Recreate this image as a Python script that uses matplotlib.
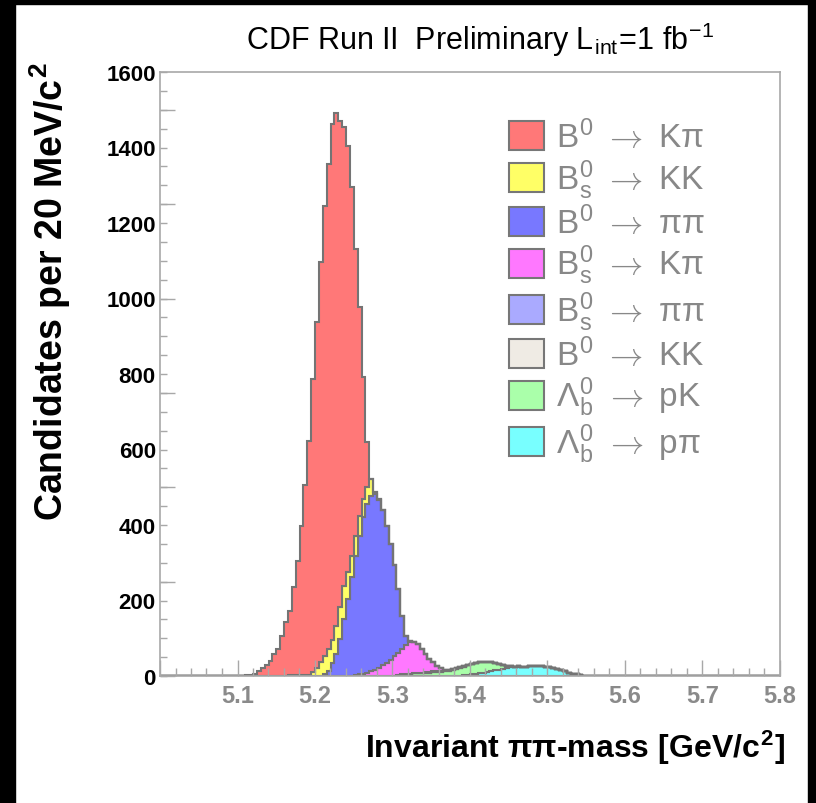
import numpy as np
import matplotlib
matplotlib.use("Agg")
import matplotlib.pyplot as plt
from matplotlib.patches import Patch, Rectangle

plt.rcParams['font.family'] = ['Liberation Sans', 'DejaVu Sans']
plt.rcParams['mathtext.fontset'] = 'cm'

# 5 MeV bins from 5.0 to 5.8 GeV/c^2
bin_width = 0.005
x_lo, x_hi = 5.0, 5.8

# per-component counts, each with its first bin
kpi_start = 5.105   # B0 -> K pi
kpi = [1, 2, 3, 5, 14, 22, 30, 41, 58, 71, 106, 141, 171, 233, 303, 396,
       505, 620, 777, 915, 1061, 1192, 1285, 1367, 1358, 1288, 1216, 1130,
       977, 760, 553, 323, 120]
bskk_start = 5.190  # Bs -> KK
bskk = [1, 9, 21, 35, 50, 59, 61, 75, 84, 89, 70, 56, 53, 53, 49, 45, 44, 5, 2, 1]
pipi_start = 5.210  # B0 -> pi pi
pipi = [3, 12, 34, 58, 98, 150, 205, 262, 316, 367, 414, 446, 465, 465, 444,
        412, 363, 307, 243, 168, 88, 23, 3]
bskpi_start = 5.250  # Bs -> K pi
bskpi = [2, 4, 6, 9, 13, 17, 22, 28, 35, 43, 52, 59, 68, 77, 83, 84, 76, 63,
         48, 35, 24, 14, 6, 1]
bspipi_start = 5.335  # Bs -> pi pi
bspipi = [1, 1, 2, 2, 3, 3, 3, 3, 2, 2, 1, 1]
b0kk_start = 5.150  # B0 -> KK
b0kk = [1, 1, 1, 2, 2, 2, 2, 2, 1, 1, 1, 1, 1]
lbpk_start = 5.305  # Lambda_b -> pK
lbpk = [3, 4, 5, 6, 7, 8, 8, 9, 9, 10, 10, 11, 12, 13, 16, 18, 21, 23, 26, 28,
        30, 30, 28, 26, 23, 19, 15, 10, 6, 3, 1, 1]
lbppi_start = 5.385  # Lambda_b -> p pi
lbppi = [1, 2, 3, 4, 5, 7, 9, 11, 13, 15, 17, 19, 21, 23, 24, 25, 25, 25, 26,
         26, 26, 26, 25, 24, 22, 19, 16, 12, 9, 6, 4, 2, 1, 1]

arrow = r'$\rightarrow$'
b0 = r'B$^{\mathregular{0}}$ '
bs = r'B$^{\mathregular{0}}_{\mathregular{s}}$ '
lb = r'Λ$^{\mathregular{0}}_{\mathregular{b}}$ '
labels = [b0 + arrow + ' Kπ', bs + arrow + ' KK', b0 + arrow + ' ππ',
          bs + arrow + ' Kπ', bs + arrow + ' ππ', b0 + arrow + ' KK',
          lb + arrow + ' pK', lb + arrow + ' pπ']
colors = ['#ff7878', '#ffff66', '#7878ff', '#ff78ff',
          '#aaaaff', '#efebe4', '#aaffaa', '#78ffff']
# stacking order, bottom first
stack = [(lbppi_start, lbppi, 7), (lbpk_start, lbpk, 6), (b0kk_start, b0kk, 5),
         (bspipi_start, bspipi, 4), (bskpi_start, bskpi, 3),
         (pipi_start, pipi, 2), (bskk_start, bskk, 1), (kpi_start, kpi, 0)]

edges = np.linspace(x_lo, x_hi, int(round((x_hi - x_lo) / bin_width)) + 1)
nbins = len(edges) - 1


def to_bins(start, vals):
    arr = np.zeros(nbins)
    i0 = int(round((start - x_lo) / bin_width))
    arr[i0:i0 + len(vals)] = vals
    return arr


fig = plt.figure(figsize=(8.16, 8.04), dpi=100)
ax = fig.add_axes([160 / 816, 1 - 677 / 804, 620 / 816, 604 / 804])

grey = '#747474'
base = np.zeros(nbins)
for start, vals, ci in stack:
    top = base + to_bins(start, vals)
    ax.stairs(top, edges, baseline=base, fill=True, facecolor=colors[ci],
              edgecolor=grey, linewidth=1.5)
    base = top

ax.set_xlim(x_lo, x_hi)
ax.set_ylim(0, 1600)

# axes frame and ticks
for s in ax.spines.values():
    s.set_color('#a8a8a8')
    s.set_linewidth(1.2)
ax.set_xticks(np.arange(5.0, 5.81, 0.1))
ax.set_xticklabels([''] + ['%.1f' % v for v in np.arange(5.1, 5.81, 0.1)])
ax.set_xticks(np.arange(5.0, 5.801, 0.02), minor=True)
ax.set_yticks(np.arange(0, 1601, 200))
ax.set_yticks(np.arange(0, 1601, 50), minor=True)
ax.tick_params(axis='x', which='major', direction='in', length=11.5, width=1,
               color='#a8a8a8', labelsize=17, labelcolor='#8a8a8a', pad=6)
ax.tick_params(axis='x', which='minor', direction='in', length=6, width=1,
               color='#a8a8a8')
ax.tick_params(axis='y', which='both', direction='in', length=5, width=1,
               color='#a8a8a8', labelsize=16, labelcolor='black', pad=3)
for t in ax.get_xticklabels():
    t.set_fontweight('bold')
for t in ax.get_yticklabels():
    t.set_fontweight('bold')

# long ticks on the left axis every 250
sec = ax.secondary_yaxis('left')
sec.set_yticks(np.arange(0, 1601, 250))
sec.tick_params(direction='in', length=11, width=1, color='#a8a8a8',
                labelleft=False)
sec.spines['left'].set_visible(False)

ax.set_xlabel(r'Invariant ππ-mass [GeV/c$^{\mathregular{2}}$]', fontsize=23,
              fontweight='bold', loc='right')
ax.xaxis.set_label_coords(1.01, -0.085)
fig.text(50 / 816, 1 - 62 / 804, r'Candidates per 20 MeV/c$^{\mathregular{2}}$',
         fontsize=27, fontweight='bold', rotation=90, ha='center', va='top')

fig.text(480 / 816, 1 - 40 / 804,
         r'CDF Run II  Preliminary L$_{\mathregular{int}}$=1 fb$^{\mathregular{-1}}$',
         fontsize=22, ha='center', va='center')

handles = [Patch(facecolor=c, edgecolor='#777777', linewidth=1.5) for c in colors]
leg = ax.legend(handles, labels, loc='upper left', bbox_to_anchor=(0.563, 0.923),
                frameon=False, fontsize=24, labelcolor='#888888',
                handlelength=1.05, handleheight=0.95, handletextpad=0.35,
                labelspacing=0.1, borderpad=0, borderaxespad=0)

# black border of the original canvas
for r in [(0, 0, 15 / 816, 1), (0, 1 - 5 / 804, 1, 5 / 804), (808 / 816, 0, 8 / 816, 1)]:
    fig.patches.append(Rectangle(r[:2], r[2], r[3], transform=fig.transFigure,
                                 color='black', zorder=10))

fig.savefig('out.png', dpi=100)
